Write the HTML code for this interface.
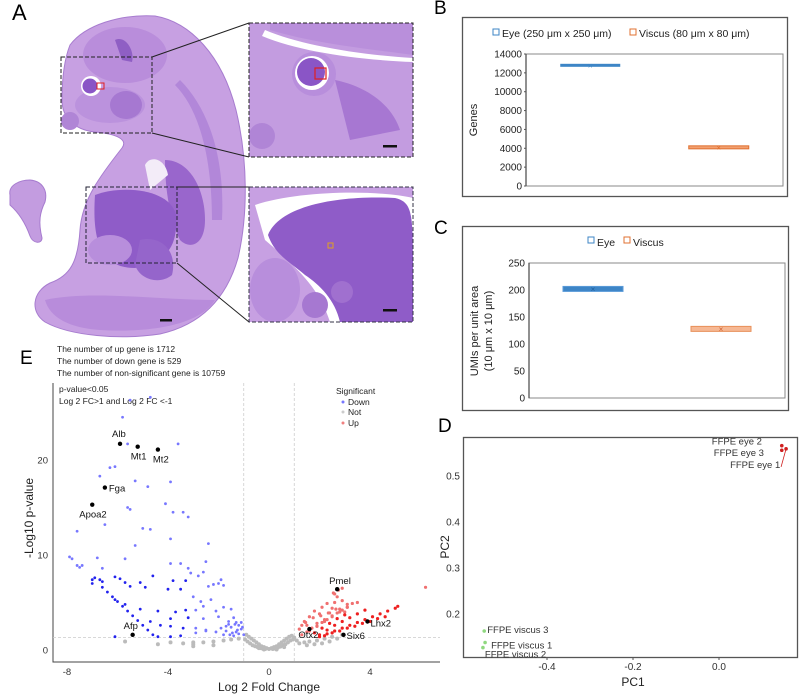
<!DOCTYPE html>
<html><head><meta charset="utf-8"><style>
body{margin:0;background:#fff;}
svg{display:block;font-family:"Liberation Sans",Arial,sans-serif;}
</style></head><body>
<svg id="fig" width="800" height="695" viewBox="0 0 800 695">
<!-- Panel A: histology -->
<g>
<text x="12" y="20" font-size="22">A</text>
<path fill="#c7a0e2" stroke="#a77ccf" stroke-width="1" d="M70,45 C85,25 120,14 155,16 C190,22 222,55 236,110 C248,160 248,215 238,258 C226,300 200,325 160,334 C120,340 70,336 45,322 C30,312 32,292 50,283 C70,276 78,262 80,230 C82,200 100,176 122,148 C128,140 118,134 95,132 C75,130 62,118 62,100 C62,80 64,60 70,45 Z"/>
<ellipse cx="125" cy="55" rx="42" ry="28" fill="#b98ddb"/>
<path d="M115,40 C125,35 135,50 132,62 L122,60 Z" fill="#8f5fc4"/>
<ellipse cx="110" cy="105" rx="35" ry="18" fill="#bb92dd"/>
<ellipse cx="126" cy="105" rx="16" ry="14" fill="#a678d1"/>
<circle cx="91" cy="86" r="10" fill="#fff"/>
<circle cx="90" cy="86" r="7.5" fill="#8a55c6"/>
<rect x="97" y="83" width="7" height="6" fill="none" stroke="#e02020" stroke-width="1"/>
<circle cx="70" cy="121" r="9" fill="#b085d6"/>
<path d="M165,160 C190,160 205,190 205,220 C205,245 190,250 180,240 C170,220 165,190 165,160 Z" fill="#9966cc"/>
<path d="M180,80 C210,110 225,160 222,220 L212,220 C212,160 200,110 175,85 Z" fill="#b287d9"/>
<path d="M95,195 C120,185 170,188 176,215 C178,245 168,262 135,268 C100,268 92,240 95,195 Z" fill="#8f5cc8"/>
<path d="M140,240 C160,235 178,250 172,275 C160,285 140,280 135,265 Z" fill="#9565cb"/>
<ellipse cx="110" cy="250" rx="22" ry="15" fill="#b88edc"/>
<path d="M45,300 C90,290 160,300 215,300 C200,325 150,333 100,330 C70,328 50,318 45,300 Z" fill="#b88cdb"/>
<path d="M145,165 C150,155 165,158 168,175 L150,190 Z" fill="#f3ecf8"/>
<rect x="160" y="319" width="12" height="2.5" fill="#111"/>
<path fill="#c39ce0" stroke="#a77ccf" d="M10,195 C8,185 20,180 30,180 C42,181 48,190 45,202 C40,212 38,222 42,238 C42,244 33,244 30,236 C25,222 18,212 10,205 Z"/>
<rect x="61" y="57" width="91" height="76" fill="none" stroke="#222" stroke-dasharray="4,2" stroke-width="1"/>
<rect x="86" y="187" width="91" height="76" fill="none" stroke="#223" stroke-dasharray="4,2" stroke-width="1"/>
<line x1="152" y1="57" x2="249" y2="23" stroke="#222"/>
<line x1="152" y1="133" x2="249" y2="157" stroke="#222"/>
<line x1="177" y1="187" x2="249" y2="187" stroke="#222"/>
<line x1="177" y1="263" x2="249" y2="322" stroke="#222"/>
<!-- upper inset -->
<rect x="249" y="23" width="164" height="134" fill="#c39ce0"/>
<path d="M270,23 L413,23 L413,55 C380,50 320,45 270,30 Z" fill="#b98fdb"/>
<path d="M265,30 C300,45 360,55 413,58 L413,62 C360,60 300,52 262,36 Z" fill="#fff"/>
<path d="M335,80 C360,85 390,100 400,130 L350,140 Z" fill="#a777d2"/>
<circle cx="314" cy="74" r="22" fill="#b88edc"/>
<circle cx="312" cy="73" r="17" fill="#fff"/>
<circle cx="311" cy="72" r="14" fill="#8a55c6"/>
<rect x="315" y="68" width="11" height="11" fill="none" stroke="#e02020" stroke-width="1.2"/>
<circle cx="262" cy="136" r="13" fill="#b085d6"/>
<rect x="383" y="145" width="14" height="2.5" fill="#111"/>
<rect x="249" y="23" width="164" height="134" fill="none" stroke="#222" stroke-dasharray="4,2"/>
<!-- lower inset -->
<rect x="249" y="187" width="164" height="135" fill="#c7a0e2"/>
<path d="M255,205 C300,190 380,190 413,198 L413,322 L330,322 C320,290 300,270 265,240 Z" fill="#fff"/>
<path d="M268,235 C280,205 340,195 395,198 C413,202 413,215 413,270 L413,322 L340,322 C335,300 320,285 305,275 C290,262 275,255 268,235 Z" fill="#8f5cc8"/>
<ellipse cx="275" cy="290" rx="25" ry="32" fill="#b88edc"/>
<circle cx="315" cy="305" r="13" fill="#a678d1"/>
<circle cx="342" cy="292" r="11" fill="#a070cf"/>
<rect x="328" y="243" width="5" height="5" fill="none" stroke="#e0a020"/>
<rect x="383" y="309" width="14" height="2.5" fill="#111"/>
<rect x="249" y="187" width="164" height="135" fill="none" stroke="#334" stroke-dasharray="4,2"/>
</g>

<!-- Panel B -->
<g id="panelB">
<text x="434" y="14" font-size="19">B</text>
<rect x="462.5" y="17.5" width="325" height="179" fill="none" stroke="#555" stroke-width="1.3"/>
<rect x="493" y="29" width="6" height="6" fill="none" stroke="#3d85c6"/>
<text x="502" y="37" font-size="10.5" fill="#222">Eye (250 μm x 250 μm)</text>
<rect x="630" y="29" width="6" height="6" fill="none" stroke="#e07030"/>
<text x="639" y="37" font-size="10.5" fill="#222">Viscus (80 μm x 80 μm)</text>
<text transform="translate(477,120) rotate(-90)" text-anchor="middle" font-size="11" fill="#222">Genes</text>
</g>
<!-- Panel C -->
<g id="panelC">
<text x="434" y="234" font-size="19">C</text>
<rect x="462.5" y="226.5" width="326" height="184" fill="none" stroke="#555" stroke-width="1.3"/>
<rect x="588" y="237" width="6" height="6" fill="none" stroke="#3d85c6"/>
<text x="597" y="246" font-size="10.5" fill="#222">Eye</text>
<rect x="624" y="237" width="6" height="6" fill="none" stroke="#e07030"/>
<text x="633" y="246" font-size="10.5" fill="#222">Viscus</text>
<text transform="translate(478,331) rotate(-90)" text-anchor="middle" font-size="11" fill="#222">UMIs per unit area</text>
<text transform="translate(492,331) rotate(-90)" text-anchor="middle" font-size="11" fill="#222">(10 μm x 10 μm)</text>
</g>
<!-- Panel D -->
<g id="panelD">
<text x="438" y="432" font-size="19">D</text>
<rect x="463.5" y="437.5" width="334" height="220" fill="none" stroke="#555" stroke-width="1.3"/>
<text x="633" y="686" text-anchor="middle" font-size="12" fill="#222">PC1</text>
<text transform="translate(449,547) rotate(-90)" text-anchor="middle" font-size="12" fill="#222">PC2</text>
</g>
<!-- Panel E -->
<g id="panelE">
<text x="20" y="364" font-size="19">E</text>
<text x="57" y="352" font-size="8.5" fill="#222">The number of up gene is 1712</text>
<text x="57" y="364" font-size="8.5" fill="#222">The number of down gene is 529</text>
<text x="57" y="376" font-size="8.5" fill="#222">The number of non-significant gene is 10759</text>
<text x="59" y="392" font-size="8.5" fill="#222">p-value&lt;0.05</text>
<text x="59" y="404" font-size="8.5" fill="#222">Log 2 FC&gt;1 and Log 2 FC &lt;-1</text>
<text x="336" y="394" font-size="8.5" fill="#222">Significant</text>
<circle cx="343" cy="402" r="1.5" fill="#7777ff"/>
<text x="348" y="405" font-size="8.5" fill="#222">Down</text>
<circle cx="343" cy="412" r="1.5" fill="#ccc"/>
<text x="348" y="415" font-size="8.5" fill="#222">Not</text>
<circle cx="343" cy="423" r="1.5" fill="#f08080"/>
<text x="348" y="426" font-size="8.5" fill="#222">Up</text>
<text x="269" y="691" text-anchor="middle" font-size="12" fill="#222">Log 2 Fold Change</text>
<text transform="translate(33,518) rotate(-90)" text-anchor="middle" font-size="12" fill="#222">-Log10 p-value</text>
</g>
</svg>
<script>
const NS='http://www.w3.org/2000/svg';
const svg=document.getElementById('fig');
function mk(tag,attrs,parent){const e=document.createElementNS(NS,tag);for(const k in attrs)e.setAttribute(k,attrs[k]);(parent||svg).appendChild(e);return e;}

// ---- Panel B data ----
const bCategories=['Eye','Viscus'];
const bValues=[12800,4100];
const bTicks=[0,2000,4000,6000,8000,10000,12000,14000];
// ---- Panel C data ----
const cCategories=['Eye','Viscus'];
const cValues=[202,128];
const cTicks=[0,50,100,150,200,250];
// ---- Panel D data ----
const pcaLabels=['FFPE eye 2','FFPE eye 3','FFPE eye 1','FFPE viscus 3','FFPE viscus 1','FFPE viscus 2'];
const pcaX=[0.146,0.146,0.156,-0.546,-0.544,-0.549];
const pcaY=[0.566,0.556,0.559,0.163,0.138,0.127];
const pcaXTicks=[-0.4,-0.2,0.0];
const pcaYTicks=[0.2,0.3,0.4,0.5];
// ---- Panel E data ----
const feXTicks=[-8,-4,0,4];
const feYTicks=[0,10,20];
const downX=[-5.8,-5.5,-4.7,-5.6,-3.6,-6.3,-6.1,-6.7,-5.3,-4.8,-3.9,-4.1,-5.6,-5.5,-3.8,-3.4,-3.2,-6.5,-7.6,-5.0,-4.7,-3.9,-5.3,-2.4,-7.9,-7.8,-7.6,-7.4,-7.5,-6.8,-5.7,-3.9,-3.5,-3.2,-2.5,-3.1,-2.6,-6.6,-6.1,-5.9,-5.7,-5.5,-6.9,-6.7,-6.6,-5.1,-4.9,-4.6,-3.8,-3.3,-2.8,-2.4,-2.2,-1.9,-1.8,-2.0,-7.0,-7.0,-6.6,-6.4,-6.2,-6.0,-5.8,-5.6,-5.4,-5.2,-5.0,-4.8,-4.6,-4.4,-6.1,-5.7,-5.1,-4.4,-3.7,-3.3,-2.9,-2.6,-2.1,-1.8,-1.5,-1.4,-4.0,-3.5,-3.0,-2.7,-2.3,-3.9,-3.2,-2.6,-2.0,-1.6,-4.7,-4.3,-3.9,-3.4,-2.9,-2.5,-2.1,-1.7,-1.3,-1.1,-1.5,-1.2,-1.0,-1.4,-1.8,-3.9,-3.5,-2.9,-2.5,-6.1,-1.3,-1.6,-1.1,-1.9,-1.2,-1.45,-1.05,-1.7,-1.25,-1.55,-1.35];
const downY=[24.5,26.3,26.6,21.7,21.7,19.2,19.3,18.3,17.8,17.2,17.7,15.4,15.0,14.8,14.5,14.5,14.0,13.2,12.5,12.8,12.7,11.7,11.0,11.2,9.8,9.6,8.9,8.9,8.7,9.7,9.6,9.1,9.1,8.6,9.3,8.1,8.2,8.6,7.7,7.5,7.1,6.7,7.6,7.4,7.2,7.1,6.6,7.8,7.3,7.3,7.8,6.7,6.9,7.4,6.8,7.0,7.4,7.0,6.6,6.1,5.6,5.1,4.6,4.1,3.6,3.1,2.6,2.1,1.6,1.4,5.3,4.8,4.3,4.1,4.0,4.2,4.2,4.6,4.1,4.5,4.3,3.4,6.4,6.4,5.6,5.1,5.3,3.3,3.4,3.3,3.5,3.0,3.0,2.6,2.5,2.3,2.3,2.1,1.9,2.0,1.9,2.2,2.4,2.6,1.6,1.5,1.6,1.4,1.5,1.8,2.0,1.4,2.9,2.7,2.9,2.3,1.7,1.8,2.4,2.5,2.1,1.6,2.7];
const upX=[1.2,1.4,1.5,1.6,1.8,1.9,2.0,2.1,2.2,2.3,2.4,2.5,2.6,2.7,2.8,2.9,3.0,3.1,1.3,1.5,1.7,1.9,2.1,2.3,2.5,2.7,2.9,3.1,3.3,3.5,2.0,2.3,2.6,2.9,3.2,3.5,3.8,4.1,4.4,4.7,5.0,5.1,2.2,2.5,2.8,3.1,3.4,3.7,4.0,4.3,4.6,2.0,2.3,2.6,2.9,3.2,3.5,3.8,1.8,2.1,2.4,2.7,3.0,1.6,1.9,2.2,2.5,2.8,3.1,2.6,2.75,2.9,2.55,6.2,1.3,1.45,1.75,2.05,2.35,2.65];
const upY=[2.2,3.0,2.6,3.5,4.1,2.8,3.8,4.5,3.2,4.9,3.9,4.4,5.0,5.6,4.3,5.2,4.0,4.8,1.6,1.9,2.3,2.5,2.9,3.2,3.6,3.9,4.2,4.5,4.9,5.0,1.4,1.7,2.0,2.3,2.6,2.9,3.2,3.5,3.8,4.1,4.4,4.6,1.5,1.8,2.0,2.3,2.5,2.8,3.0,3.3,3.5,1.6,2.1,2.6,3.0,3.4,3.8,4.2,1.8,2.3,2.8,3.3,3.7,2.0,2.5,3.0,3.5,4.0,4.5,5.9,6.3,6.5,6.0,6.6,2.6,2.9,3.4,3.6,3.9,4.3];
const notX=[-0.9,-0.8,-0.7,-0.6,-0.5,-0.4,-0.3,-0.2,-0.1,0,0.1,0.2,0.3,0.4,0.5,0.6,0.7,0.8,0.9,1.0,-0.95,-0.85,-0.75,-0.65,-0.55,-0.45,-0.35,-0.25,-0.15,0.15,0.25,0.35,0.45,0.55,0.65,0.75,0.85,0.95,1.1,-1.2,-1.5,-1.8,-2.2,-2.6,-3.0,-3.4,-3.9,-4.4,-5.7,-2.2,-3.0,-3.0,1.5,1.8,2.1,2.4,2.7,2.9,1.6,1.9,2.2,2.5,-0.4,-0.2,0.3,0.6,1.2,1.4];
const notY=[1.6,1.4,1.2,1.0,0.8,0.6,0.4,0.3,0.2,0.1,0.2,0.3,0.4,0.6,0.8,1.0,1.2,1.4,1.5,1.3,1.1,0.9,0.7,0.5,0.4,0.3,0.2,0.15,0.1,0.1,0.15,0.25,0.35,0.5,0.6,0.8,1.0,1.1,1.0,1.2,1.1,1.0,0.9,0.8,0.6,0.7,0.8,0.6,0.9,0.5,0.8,0.4,0.5,0.6,0.7,0.9,1.2,1.6,0.9,1.0,1.2,1.4,0.2,0.05,0.05,0.3,0.7,0.8];
const labelGenes=['Alb','Mt1','Mt2','Fga','Apoa2','Afp','Pmel','Otx2','Lhx2','Six6'];
const labelX=[-5.9,-5.2,-4.4,-6.5,-7.0,-5.4,2.7,1.6,3.9,2.95];
const labelY=[21.7,21.4,21.1,17.1,15.3,1.6,6.4,2.2,3.0,1.6];

// ---------- Panel B ----------
(function(){
 const g=document.getElementById('panelB');
 const x0=526,x1=783,y0=186,y1=54,max=14000;
 const ys=v=>y0-(v/max)*(y0-y1);
 const xs=i=>x0+(x1-x0)*(i+0.5)/bCategories.length;
 const fr=mk('rect',{x:x0,y:y1,width:x1-x0,height:y0-y1,fill:'none',stroke:'#888','stroke-width':1},g);
 
 
 const ax=mk('line',{x1:x0,y1:y1,x2:x0,y2:y0,stroke:'#555','stroke-width':1.3},g);
 
 
 bTicks.forEach(t=>{
  const tx=mk('text',{x:x0-4,y:ys(t)+3.5,'text-anchor':'end','font-size':10,fill:'#222'},g);tx.textContent=t;
  
  
  const tk=mk('line',{x1:x0-2,y1:ys(t),x2:x0,y2:ys(t),stroke:'#555'},g);
  
  
 });
 const cols=['#3d85c6','#e07030'];
 bValues.forEach((v,i)=>{
  const cx=xs(i),y=ys(v);
  const l=mk('rect',{x:cx-30,y:y-1.5,width:60,height:3,fill:i?'#f2a070':cols[0],stroke:cols[i],'stroke-width':i?1:0},g);
  
  
  const m=mk('text',{x:cx,y:y+3,'text-anchor':'middle','font-size':8,fill:cols[i]},g);m.textContent='×';
  
  
 });
})();
// ---------- Panel C ----------
(function(){
 const g=document.getElementById('panelC');
 const x0=529,x1=785,y0=398,y1=263,max=250;
 const ys=v=>y0-(v/max)*(y0-y1);
 const xs=i=>x0+(x1-x0)*(i+0.5)/cCategories.length;
 const fr=mk('rect',{x:x0,y:y1,width:x1-x0,height:y0-y1,fill:'none',stroke:'#888','stroke-width':1},g);
 
 
 const ax=mk('line',{x1:x0,y1:y1,x2:x0,y2:y0,stroke:'#555','stroke-width':1.3},g);
 
 
 cTicks.forEach(t=>{
  const tx=mk('text',{x:x0-4,y:ys(t)+3.5,'text-anchor':'end','font-size':10,fill:'#222'},g);tx.textContent=t;
  
  
 });
 const cols=['#3d85c6','#f0a070'];
 cValues.forEach((v,i)=>{
  const cx=xs(i),y=ys(v);
  const l=mk('rect',{x:cx-30,y:y-2.5,width:60,height:5,fill:i?'#f6b894':'#3d85c6',stroke:i?'#e8905a':'#5a9ad8','stroke-width':1},g);
  
  
  const m=mk('text',{x:cx,y:y+3,'text-anchor':'middle','font-size':8,fill:i?'#d06030':'#2060a0'},g);m.textContent='×';
  
  
 });
})();
// ---------- Panel D ----------
(function(){
 const g=document.getElementById('panelD');
 const xs=v=>719+(v/0.2)*86;
 const ys=v=>476-(v-0.5)/0.1*46;
 pcaXTicks.forEach(t=>{
  const tx=mk('text',{x:xs(t),y:670,'text-anchor':'middle','font-size':10,fill:'#333'},g);tx.textContent=t.toFixed(1);
  
  
  const tk=mk('line',{x1:xs(t),y1:657,x2:xs(t),y2:660,stroke:'#555'},g);
  
  
 });
 pcaYTicks.forEach(t=>{
  const tx=mk('text',{x:460,y:ys(t)+3.5,'text-anchor':'end','font-size':10,fill:'#333'},g);tx.textContent=t.toFixed(1);
  
  
 });
 const off=[[-70,-4],[-68,3],[-56,16],[3,-1],[6,3],[2,7]];
 pcaX.forEach((v,i)=>{
  const eye=i<3;
  const c=mk('circle',{cx:xs(v),cy:ys(pcaY[i]),r:1.8,fill:eye?'#d02020':'#90d880'},g);
  
  
  const t=mk('text',{x:xs(v)+off[i][0],y:ys(pcaY[i])+off[i][1]+3,'font-size':9.5,fill:'#333'},g);t.textContent=pcaLabels[i];
  
  
 });
 const ln=mk('line',{x1:xs(pcaX[2]),y1:ys(pcaY[2]),x2:xs(pcaX[2])-5,y2:ys(pcaY[2])+18,stroke:'#d02020','stroke-width':0.8},g);
 
 
})();
// ---------- Panel E ----------
(function(){
 const g=document.getElementById('panelE');
 const xs=v=>269+v*25.25;
 const ys=v=>650-v*9.5;
 const ax=mk('path',{d:'M53,383 L53,662 L440,662',fill:'none',stroke:'#444','stroke-width':1},g);
 
 
 [-1,1].forEach(v=>{
  const l=mk('line',{x1:xs(v),y1:383,x2:xs(v),y2:662,stroke:'#ccc','stroke-dasharray':'3,2','stroke-width':0.8},g);
  
  
 });
 const hl=mk('line',{x1:53,y1:ys(1.3),x2:440,y2:ys(1.3),stroke:'#ccc','stroke-dasharray':'3,2','stroke-width':0.8},g);
 
 
 feXTicks.forEach(t=>{
  const tx=mk('text',{x:xs(t),y:675,'text-anchor':'middle','font-size':9.5,fill:'#333'},g);tx.textContent=t;
  
  
 });
 feYTicks.forEach(t=>{
  const tx=mk('text',{x:48,y:ys(t)+3.5,'text-anchor':'end','font-size':9.5,fill:'#333'},g);tx.textContent=t;
  
  
 });
 notX.forEach((v,i)=>{
  const c=mk('circle',{cx:xs(v),cy:ys(notY[i]),r:2,fill:'#bbb'},g);
  
  
 });
 downX.forEach((v,i)=>{
  const c=mk('circle',{cx:xs(v),cy:ys(downY[i]),r:1.4,fill:downY[i]<8&&v<-3?'#2222ee':'#7777ff'},g);
  
  
 });
 upX.forEach((v,i)=>{
  const c=mk('circle',{cx:xs(v),cy:ys(upY[i]),r:1.6,fill:i>=30&&i<63?'#ee2020':'#f07070'},g);
  
  
 });
 labelGenes.forEach((n,i)=>{
  const c=mk('circle',{cx:xs(labelX[i]),cy:ys(labelY[i]),r:2.2,fill:'#000'},g);
  
  
 });
 const lo={Alb:[-8,-7],Mt1:[-7,13],Mt2:[-5,13],Fga:[4,4],Apoa2:[-13,13],Afp:[-9,-6],Pmel:[-8,-5],Otx2:[-11,9],Lhx2:[3,5],Six6:[3,4]};
 labelGenes.forEach((n,i)=>{
  const t=mk('text',{x:xs(labelX[i])+lo[n][0],y:ys(labelY[i])+lo[n][1],'font-size':9.5,fill:'#111'},g);t.textContent=n;
  
  
 });
})();
</script>
</body></html>
